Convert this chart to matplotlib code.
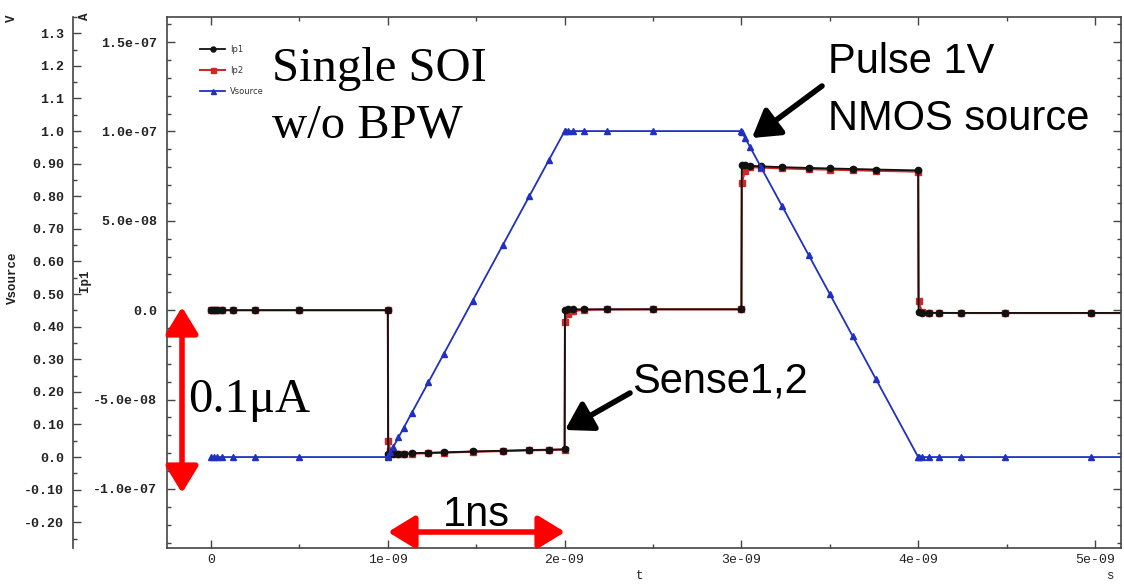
import numpy as np
import matplotlib
matplotlib.use('Agg')
import matplotlib.pyplot as plt
from matplotlib.ticker import FixedLocator, MultipleLocator

# ---------------- data ----------------
t_ns = [0, 0.0156, 0.031, 0.0625, 0.125, 0.25, 0.5, 1.0,
        1.002, 1.015, 1.03, 1.06, 1.09, 1.135, 1.23, 1.315, 1.48, 1.65, 1.80, 1.91, 2.0,
        2.002, 2.02, 2.05, 2.11, 2.24, 2.5, 3.0,
        3.002, 3.02, 3.05, 3.11, 3.23, 3.38, 3.5, 3.63, 3.76, 4.0,
        4.002, 4.02, 4.06, 4.12, 4.24, 4.49, 4.98, 5.5]

# currents in nA
ip1_nA = [0, 0, 0, 0, 0, 0, 0, 0,
          -80.5, -80.5, -80.4, -80.3, -80.2, -80.0, -79.7, -79.5, -79.0, -78.6, -78.2, -78.0, -77.8,
          0.3, 0.4, 0.5, 0.5, 0.5, 0.5, 0.5,
          81.0, 81.0, 80.8, 80.5, 80.0, 79.6, 79.3, 79.0, 78.7, 78.2,
          -1.2, -1.4, -1.5, -1.5, -1.5, -1.5, -1.5, -1.5]

ip2_nA = [0, 0, 0, 0, 0, 0, 0, 0,
          -73.0, -79.0, -80.0, -80.5, -80.5, -80.2, -80.0, -79.7, -79.2, -78.8, -78.4, -78.2, -78.0,
          -6.5, -2.0, -0.5, 0.2, 0.4, 0.5, 0.5,
          71.0, 78.0, 80.0, 79.8, 79.3, 78.9, 78.6, 78.3, 78.0, 77.5,
          5.0, -0.8, -1.4, -1.5, -1.6, -1.6, -1.6, -1.6]

vsource = [0, 0, 0, 0, 0, 0, 0, 0,
           0.002, 0.015, 0.03, 0.06, 0.09, 0.135, 0.23, 0.315, 0.48, 0.65, 0.80, 0.91, 1.0,
           1.0, 1.0, 1.0, 1.0, 1.0, 1.0, 1.0,
           0.998, 0.98, 0.95, 0.89, 0.77, 0.62, 0.5, 0.37, 0.24, 0.0,
           0, 0, 0, 0, 0, 0, 0, 0]

x_ticks = [0, 1e-9, 2e-9, 3e-9, 4e-9, 5e-9]
x_ticklabels = ['0', '1e-09', '2e-09', '3e-09', '4e-09', '5e-09']
i_ticks = [-1e-7, -5e-8, 0, 5e-8, 1e-7, 1.5e-7]
i_ticklabels = ['-1.0e-07', '-5.0e-08', '0.0', '5.0e-08', '1.0e-07', '1.5e-07']
v_ticks = [-0.2, -0.1, 0.0, 0.1, 0.2, 0.3, 0.4, 0.5, 0.6, 0.7, 0.8, 0.9, 1.0, 1.1, 1.2, 1.3]
v_ticklabels = ['-0.20', '-0.10', '0.0', '0.10', '0.20', '0.30', '0.40', '0.50',
                '0.60', '0.70', '0.80', '0.90', '1.0', '1.1', '1.2', '1.3']
series_names = ['Ip1', 'Ip2', 'Vsource']

# ---------------- figure ----------------
W, H = 1124, 584
plt.rcParams['font.family'] = ['Liberation Mono', 'DejaVu Sans Mono']
fig = plt.figure(figsize=(W / 100, H / 100), dpi=100)
ax = fig.add_axes([167 / W, 1 - 548 / H, (1121 - 167) / W, (548 - 17) / H])

t = np.array(t_ns) * 1e-9
RED = '#cc2a2a'
BLUE = '#2030c0'
BLK = '#111111'
XLIM = (-0.249e-9, 5.147e-9)

l2, = ax.plot(t, np.array(ip2_nA) * 1e-9, color=RED, marker='s', ms=4.5, lw=1.5)
l1, = ax.plot(t, np.array(ip1_nA) * 1e-9, color=BLK, marker='o', ms=4.5, lw=1.3)
ax.set_xlim(*XLIM)
ax.set_ylim(-1.33e-7, 1.64e-7)

ax2 = ax.twinx()
l3, = ax2.plot(t, vsource, color=BLUE, marker='^', ms=4.5, lw=1.3)
ax2.set_ylim(-0.279, 1.35)
ax2.set_xlim(*XLIM)

# x axis
ax.xaxis.set_major_locator(FixedLocator(x_ticks))
ax.set_xticklabels(x_ticklabels)
ax.xaxis.set_minor_locator(MultipleLocator(0.5e-9))
# Ip1 axis
ax.yaxis.set_major_locator(FixedLocator(i_ticks))
ax.set_yticklabels(i_ticklabels)
ax.yaxis.set_minor_locator(MultipleLocator(1e-8))
ax.tick_params(which='both', direction='in', top=True, right=True, left=True, bottom=True,
               labelright=False, labeltop=False, color='#444444', width=1)
ax.tick_params(which='major', length=5.5)
ax.tick_params(which='minor', length=2.8)
ax.tick_params(axis='y', pad=7, labelsize=9.5, labelcolor='#222222')
ax.tick_params(axis='x', pad=4, labelsize=9.5, labelcolor='#222222')
for lb in ax.get_yticklabels():
    lb.set_fontweight('bold')

# Vsource axis (outer left)
for s in ['right', 'top', 'bottom']:
    ax2.spines[s].set_visible(False)
ax2.spines['left'].set_visible(True)
ax2.spines['left'].set_position(('outward', 94 * 0.72))
ax2.spines['left'].set_color('#444444')
ax2.yaxis.set_ticks_position('left')
ax2.yaxis.set_label_position('left')
ax2.yaxis.set_major_locator(FixedLocator(v_ticks))
ax2.set_yticklabels(v_ticklabels)
ax2.yaxis.set_minor_locator(MultipleLocator(0.05))
ax2.tick_params(axis='y', which='both', direction='in', left=True, right=False,
                labelleft=True, labelright=False, color='#444444', width=1,
                pad=6.5, labelsize=9.5, labelcolor='#222222')
ax2.tick_params(axis='y', which='major', length=5.8)
ax2.tick_params(axis='y', which='minor', length=2.9)
for lb in ax2.get_yticklabels():
    lb.set_fontweight('bold')

for s in ax.spines.values():
    s.set_color('#444444')
    s.set_linewidth(1.2)
ax2.spines['left'].set_linewidth(1.2)

# legend
leg = ax2.legend(handles=[l1, l2, l3], labels=series_names, loc='upper left',
                 bbox_to_anchor=(200 / W, 1 - 45 / H), bbox_transform=fig.transFigure,
                 frameon=False, prop={'family': 'DejaVu Sans', 'size': 6},
                 handlelength=3, labelspacing=1.45, handletextpad=0.6,
                 borderpad=0, borderaxespad=0, numpoints=1, markerscale=0.8)
for tx in leg.get_texts():
    tx.set_color('#333333')


def fp(x, y):
    return (x / W, 1 - y / H)


mono = dict(family=['Liberation Mono', 'DejaVu Sans Mono'], fontsize=9, color='#222222',
            fontweight='bold')
fig.text(*fp(12, 18), 'V', rotation=90, ha='center', va='center', **mono)
fig.text(*fp(85, 16), 'A', rotation=90, ha='center', va='center', **mono)
fig.text(*fp(13, 278), 'Vsource', rotation=90, ha='center', va='center', **mono)
fig.text(*fp(85, 281), 'Ip1', rotation=90, ha='center', va='center', **mono)
mono_n = dict(mono)
mono_n['fontweight'] = 'normal'
fig.text(*fp(640, 576), 't', ha='center', va='center', **mono_n)
fig.text(*fp(1110, 576), 's', ha='center', va='center', **mono_n)

# overlay annotations
serif = dict(family=['Liberation Serif', 'DejaVu Serif'], fontsize=35, color='black')
sans = dict(family=['Liberation Sans', 'DejaVu Sans'], fontsize=30, color='black')
fig.text(*fp(272, 81), 'Single SOI', ha='left', va='baseline', **serif)
fig.text(*fp(272, 137), 'w/o BPW', ha='left', va='baseline', **serif)
fig.text(*fp(188, 412), '0.1\u03bcA', ha='left', va='baseline', **serif)
fig.text(*fp(828, 73), 'Pulse 1V', ha='left', va='baseline', **sans)
fig.text(*fp(828, 130), 'NMOS source', ha='left', va='baseline', **sans)
fig.text(*fp(632, 392), 'Sense1,2', ha='left', va='baseline', **sans)
fig.text(*fp(443, 526), '1ns', ha='left', va='baseline', **sans)


def pxy(x, y):
    return (x, H - y)


blk_arrow = dict(arrowstyle='-|>,head_length=0.9,head_width=0.55', color='black', lw=4,
                 shrinkA=0, shrinkB=0, mutation_scale=18)
ax2.annotate('', xy=pxy(752, 138), xytext=pxy(822, 86), xycoords='figure pixels',
             textcoords='figure pixels', arrowprops=blk_arrow, annotation_clip=False)
ax2.annotate('', xy=pxy(565, 430), xytext=pxy(630, 393), xycoords='figure pixels',
             textcoords='figure pixels', arrowprops=blk_arrow, annotation_clip=False)
red_arrow = dict(arrowstyle='<|-|>,head_length=0.9,head_width=0.55', color='#ff0000', lw=4,
                 shrinkA=0, shrinkB=0, mutation_scale=18)
ax2.annotate('', xy=pxy(182, 307), xytext=pxy(182, 493), xycoords='figure pixels',
             textcoords='figure pixels', arrowprops=red_arrow, annotation_clip=False)
ax2.annotate('', xy=pxy(388, 532), xytext=pxy(565, 532), xycoords='figure pixels',
             textcoords='figure pixels', arrowprops=red_arrow, annotation_clip=False)

fig.savefig('out.png', dpi=100)
